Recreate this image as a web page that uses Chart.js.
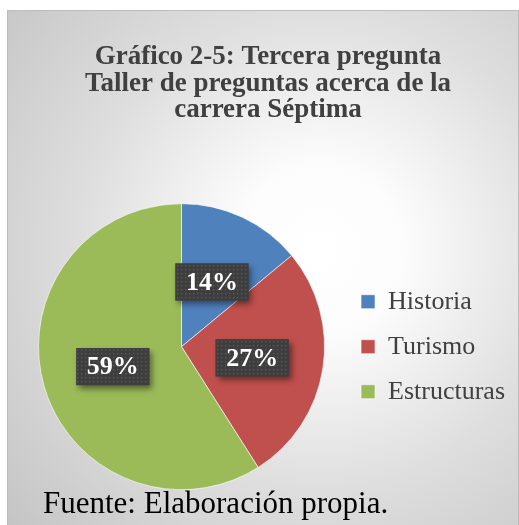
<!DOCTYPE html>
<html>
<head>
<meta charset="utf-8">
<script src="https://cdn.jsdelivr.net/npm/chart.js@4.4.0/dist/chart.umd.min.js"></script>
<style>
  html, body { margin: 0; padding: 0; background: #ffffff; }
  #wrap { position: relative; width: 519px; height: 525px; }
</style>
</head>
<body>
<div id="wrap"><canvas id="pie-chart" width="519" height="525"></canvas></div>
<script>
var categorias = ["Historia", "Turismo", "Estructuras"];
var porcentajes = [14, 27, 59];
var colores = ["#4F81BD", "#C0504D", "#9BBB59"];
var titulo = ["Gráfico 2-5: Tercera pregunta", "Taller de preguntas acerca de la", "carrera Séptima"];
var fuente = "Fuente: Elaboración propia.";

// fondo gris con degradado y marco
var fondo = {
	id: 'fondo',
	beforeDraw: function(chart) {
		var ctx = chart.ctx;
		ctx.save();
		var g = ctx.createRadialGradient(320, 250, 0, 320, 250, 420);
		g.addColorStop(0, "#ffffff");
		g.addColorStop(0.2, "#fcfcfc");
		g.addColorStop(0.57, "#dedede");
		g.addColorStop(1, "#c4c4c4");
		ctx.fillStyle = g;
		ctx.fillRect(8, 11, 510, 514);
		ctx.strokeStyle = "#bcbcbc";
		ctx.lineWidth = 1;
		ctx.strokeRect(7.5, 10.5, 511, 520);
		ctx.restore();
	}
};

// trama punteada de las cajas
function trama(ctx) {
	var c = document.createElement('canvas');
	c.width = 4; c.height = 4;
	var p = c.getContext('2d');
	p.fillStyle = "#3e3e3e";
	p.fillRect(0, 0, 4, 4);
	p.fillStyle = "#575757";
	p.fillRect(1, 1, 1.4, 1.4);
	return ctx.createPattern(c, 'repeat');
}

// etiquetas con caja oscura
var etiquetas = {
	id: 'etiquetas',
	afterDatasetsDraw: function(chart) {
		var ctx = chart.ctx;
		var meta = chart.getDatasetMeta(0);
		var relleno = trama(ctx);
		ctx.save();
		ctx.font = "bold 26px 'Liberation Serif'";
		ctx.textAlign = "center";
		ctx.textBaseline = "middle";
		meta.data.forEach(function(arc, i) {
			var p = arc.tooltipPosition();
			var txt = porcentajes[i] + "%";
			var w = ctx.measureText(txt).width + 21;
			var h = 37;
			ctx.shadowColor = "rgba(0,0,0,0.45)";
			ctx.shadowBlur = 6;
			ctx.shadowOffsetX = 3;
			ctx.shadowOffsetY = 4;
			ctx.fillStyle = "#3e3e3e";
			ctx.fillRect(p.x - w / 2, p.y - h / 2, w, h);
			ctx.shadowColor = "transparent";
			ctx.fillStyle = relleno;
			ctx.fillRect(p.x - w / 2, p.y - h / 2, w, h);
			ctx.fillStyle = "#ffffff";
			ctx.fillText(txt, p.x, p.y + 1);
		});
		ctx.restore();
	}
};

// texto de la fuente
var pie = {
	id: 'fuente',
	afterDraw: function(chart) {
		var ctx = chart.ctx;
		ctx.save();
		ctx.font = "31px 'Liberation Serif'";
		ctx.fillStyle = "#000000";
		ctx.textAlign = "left";
		ctx.textBaseline = "alphabetic";
		ctx.fillText(fuente, 43, 513);
		ctx.restore();
	}
};

new Chart(document.getElementById("pie-chart"), {
	type: 'pie',
	data: {
		labels: categorias,
		datasets: [{
			data: porcentajes,
			backgroundColor: colores,
			borderColor: "#ffffff",
			borderWidth: 0.6
		}]
	},
	options: {
		responsive: false,
		animation: false,
		layout: {
			padding: { left: 21, right: 4, top: 0, bottom: 35 }
		},
		plugins: {
			title: {
				display: true,
				text: titulo,
				color: "#404040",
				font: { family: "'Liberation Serif'", size: 27, weight: 'bold', lineHeight: 0.98 },
				padding: { top: 44, bottom: 80 }
			},
			legend: {
				position: 'right',
				fullSize: false,
				labels: {
					color: "#404040",
					font: { family: "'Liberation Serif'", size: 26 },
					boxWidth: 14,
					boxHeight: 14,
					padding: 19
				}
			},
			tooltip: { enabled: false }
		}
	},
	plugins: [fondo, etiquetas, pie]
});
</script>
</body>
</html>
